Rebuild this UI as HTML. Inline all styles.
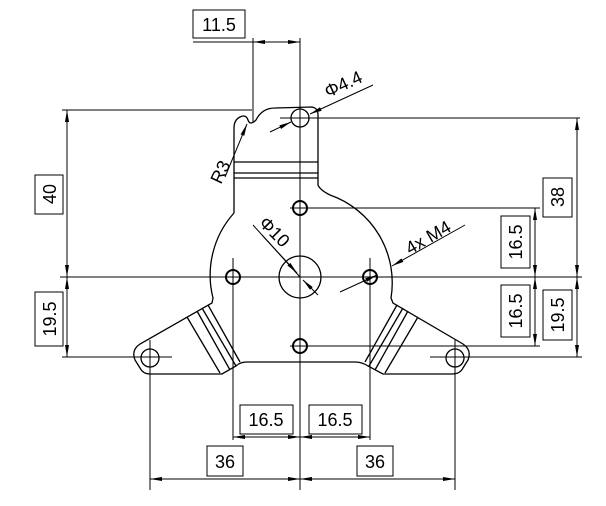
<!DOCTYPE html>
<html><head><style>body{margin:0;background:#fff}svg{display:block}text{font-family:"Liberation Sans",sans-serif;font-size:18px;fill:#000}</style></head><body>
<svg width="606" height="506" viewBox="0 0 606 506" xmlns="http://www.w3.org/2000/svg">
<defs>
<marker id="a" viewBox="0 0 12 6" refX="12" refY="3" markerWidth="12" markerHeight="6" markerUnits="userSpaceOnUse" orient="auto-start-reverse"><path d="M0,1 L12,3 L0,5 Z" fill="#000"/></marker>
</defs>
<g fill="none" stroke="#000" stroke-width="1.3">
<path d="M234,213 L234,128 Q234,120 240,117 Q246,114 248,120 Q250,126 256,120 Q262,108 275,108 L312,107 Q318,108 318,115 L318,185 Q320,190 330,195 A93,93 0 0 1 391,298 L393,303 L463,344 Q472,350 468,360 L463,368 Q460,374 452,374 L383,374 L368,366 Q362,362 355,362 L247,362 Q240,362 236,366 L222,374 L150,374 Q143,374 140,368 L135,360 Q131,350 140,344 L212,303 L213,298 A93,93 0 0 1 234,213"/>
<path d="M234,162 H318 M234,173 H318 M234,178 H318"/>
<path d="M187,317 L220,373 M197,311 L230,370 M202,308 L236,366 M208,305 L240,362"/>
<path d="M418,317 L385,373 M408,311 L375,370 M403,308 L369,366 M397,305 L365,362"/>
<circle cx="300" cy="118" r="9"/>
<circle cx="300" cy="277" r="21"/>
<circle cx="300" cy="208" r="7" stroke-width="2"/>
<circle cx="233" cy="277" r="7" stroke-width="2"/>
<circle cx="370" cy="277" r="7" stroke-width="2"/>
<circle cx="300" cy="346" r="7" stroke-width="2"/>
<circle cx="150" cy="358" r="9"/>
<circle cx="455" cy="358" r="9"/>
</g>
<g fill="none" stroke="#000" stroke-width="1">
<path d="M300,95 V490 M60,277 H582 M62,110 H252 M280,118 H580 M290,208 H540 M290,346 H540 M62,357 H172 M430,357 H582"/>
<path d="M233,258 V440 M370,258 V440 M150,340 V490 M455,340 V490 M253,38 V122 M300,38 V95"/>
<path d="M193,42 H300"/>
<path d="M253,42 H300" marker-start="url(#a)" marker-end="url(#a)"/>
<path d="M67,110 V277" marker-start="url(#a)" marker-end="url(#a)"/>
<path d="M67,277 V357" marker-start="url(#a)" marker-end="url(#a)"/>
<path d="M577,118 V277" marker-start="url(#a)" marker-end="url(#a)"/>
<path d="M577,277 V357" marker-start="url(#a)" marker-end="url(#a)"/>
<path d="M535,208 V277" marker-start="url(#a)" marker-end="url(#a)"/>
<path d="M535,277 V346" marker-start="url(#a)" marker-end="url(#a)"/>
<path d="M233,437 H300" marker-start="url(#a)" marker-end="url(#a)"/>
<path d="M300,437 H370" marker-start="url(#a)" marker-end="url(#a)"/>
<path d="M150,479 H300" marker-start="url(#a)" marker-end="url(#a)"/>
<path d="M300,479 H455" marker-start="url(#a)" marker-end="url(#a)"/>
<path d="M253,225 L300,277"/>
<path d="M262,235 L297,273" marker-end="url(#a)"/>
<path d="M318,295 L303,280" marker-end="url(#a)"/>
<path d="M340,292 L377,275" marker-end="url(#a)"/>
<path d="M465,225 L392,266" marker-end="url(#a)"/>
<path d="M270,132 L291,122" marker-end="url(#a)"/>
<path d="M373,85 L310,114" marker-end="url(#a)"/>
<path d="M225,177 L247,124" marker-end="url(#a)"/>
<rect x="193" y="10" width="52" height="28"/>
<rect x="35" y="175" width="28" height="39"/>
<rect x="35" y="292" width="28" height="54"/>
<rect x="543" y="178" width="29" height="39"/>
<rect x="543" y="290" width="29" height="50"/>
<rect x="501" y="216" width="29" height="52"/>
<rect x="501" y="285" width="29" height="52"/>
<rect x="240" y="405" width="53" height="29"/>
<rect x="309" y="405" width="53" height="29"/>
<rect x="207" y="446" width="36" height="30"/>
<rect x="357" y="446" width="36" height="30"/>
</g>
<text x="219" y="31" text-anchor="middle">11.5</text>
<text transform="translate(56,194) rotate(-90)" text-anchor="middle">40</text>
<text transform="translate(56,319) rotate(-90)" text-anchor="middle">19.5</text>
<text transform="translate(564,197) rotate(-90)" text-anchor="middle">38</text>
<text transform="translate(564,315) rotate(-90)" text-anchor="middle">19.5</text>
<text transform="translate(522,242) rotate(-90)" text-anchor="middle">16.5</text>
<text transform="translate(522,311) rotate(-90)" text-anchor="middle">16.5</text>
<text x="266" y="426" text-anchor="middle">16.5</text>
<text x="335" y="426" text-anchor="middle">16.5</text>
<text x="225" y="468" text-anchor="middle">36</text>
<text x="375" y="468" text-anchor="middle">36</text>
<text transform="translate(328,98) rotate(-25)">Φ4.4</text>
<text transform="translate(258,224) rotate(45)">Φ10</text>
<text transform="translate(410,255) rotate(-30)">4x M4</text>
<text transform="translate(221,185) rotate(-65)">R3</text>
</svg>
</body></html>
